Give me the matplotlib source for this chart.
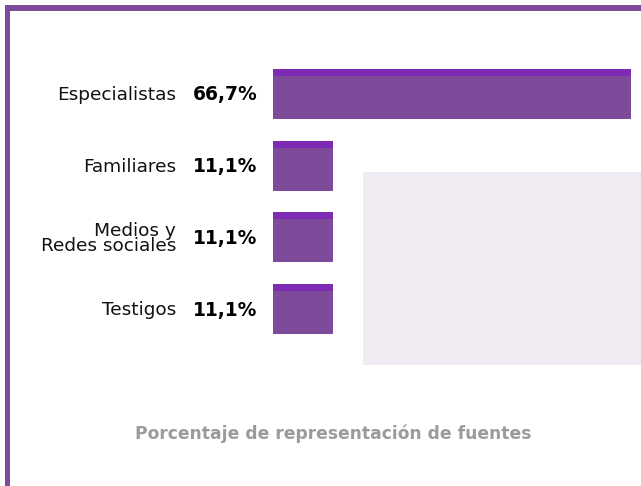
"""
Horizontal bar chart: share of sources by type.
"""

import matplotlib
matplotlib.use("Agg")
import matplotlib.pyplot as plt
from matplotlib.patches import Rectangle

# data
categories = ["Especialistas", "Familiares", "Medios y\nRedes sociales", "Testigos"]
values = [66.7, 11.1, 11.1, 11.1]
value_labels = ["66,7%", "11,1%", "11,1%", "11,1%"]
title = "Porcentaje de representación de fuentes"

BAR = "#7e4a9a"
STRIPE = "#7d2bb3"
FRAME = "#7e4b9a"
PANEL = "#f0eaf3"

W, H = 641, 486
plt.rcParams["font.family"] = ["DejaVu Sans"]

fig = plt.figure(figsize=(W / 100, H / 100), dpi=100)


def px(x0, y0, x1, y1):
    # pixel box (top-left origin) -> figure fraction rect
    return [x0 / W, 1 - y1 / H, (x1 - x0) / W, (y1 - y0) / H]


# light background panel and frame lines
l, b, w, h = px(363, 172, 641, 365)
fig.patches.append(Rectangle((l, b), w, h, transform=fig.transFigure,
                             facecolor=PANEL, edgecolor="none", zorder=0))
l, b, w, h = px(5, 5, 641, 11)
fig.patches.append(Rectangle((l, b), w, h, transform=fig.transFigure,
                             facecolor=FRAME, edgecolor="none", zorder=0))
l, b, w, h = px(5, 5, 10, 486)
fig.patches.append(Rectangle((l, b), w, h, transform=fig.transFigure,
                             facecolor=FRAME, edgecolor="none", zorder=0))

ax = fig.add_axes(px(273, 58, 631, 345))
ax.set_facecolor("none")
ax.set_xlim(0, max(values))
ax.set_ylim(len(categories) - 0.5, -0.5)

ypos = list(range(len(categories)))
bar_h = 0.70
stripe_h = 0.10
ax.barh(ypos, values, height=bar_h, color=BAR, edgecolor="none")
# darker stripe along the top of every bar
ax.barh([y - bar_h / 2 + stripe_h / 2 for y in ypos], values, height=stripe_h,
        color=STRIPE, edgecolor="none")

for y, cat, lab in zip(ypos, categories, value_labels):
    ax.annotate(cat, xy=(0, y), xytext=(-97, -1), textcoords="offset pixels",
                ha="right", va="center", fontsize=13.3, color="#111111",
                linespacing=0.82, annotation_clip=False)
    ax.annotate(lab, xy=(0, y), xytext=(-48, -1), textcoords="offset pixels",
                ha="center", va="center", fontsize=13.5, fontweight="bold",
                color="#000000", annotation_clip=False)

ax.axis("off")

fig.text(333 / W, 1 - 434 / H, title, ha="center", va="center",
         fontsize=12.3, fontweight="bold", color="#9b9b9b")

fig.savefig("out.png", dpi=100)
